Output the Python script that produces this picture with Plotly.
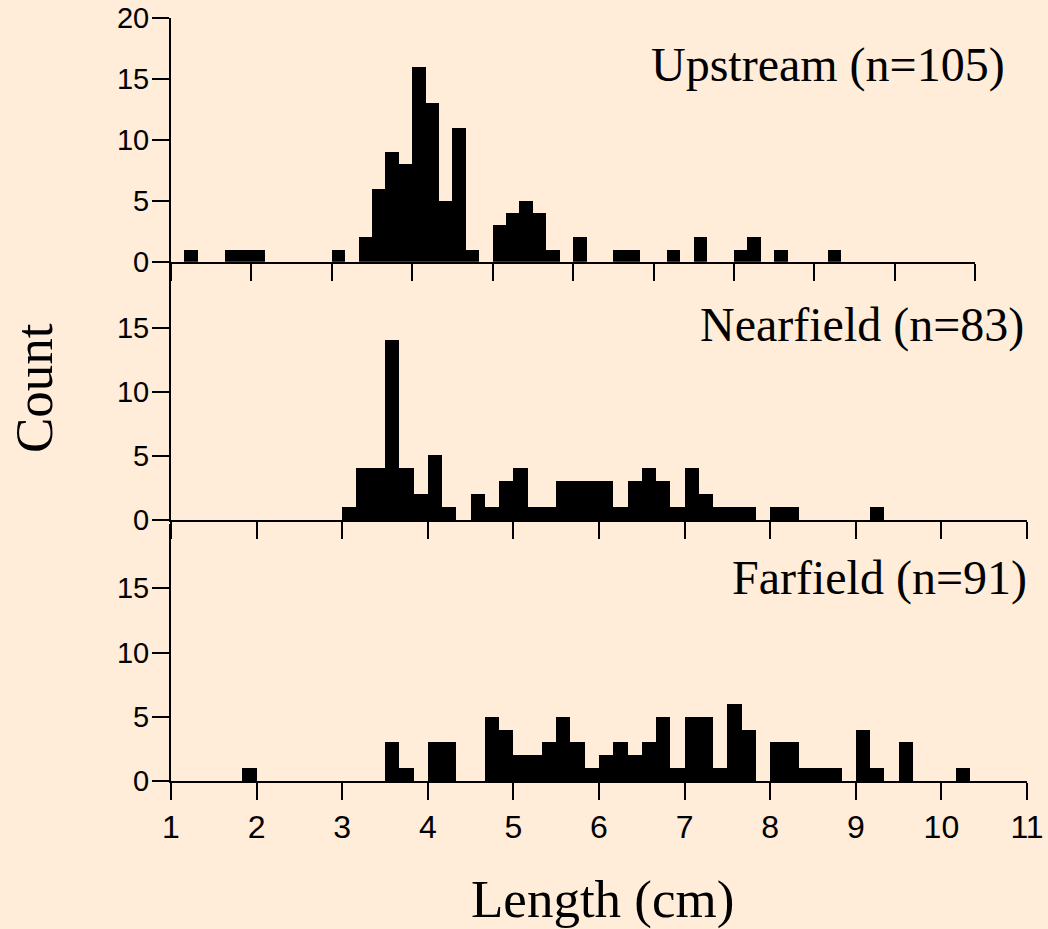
import numpy as np
import plotly.graph_objects as go

# Histogram bins: 60 equal-width bins spanning 1-11 cm
bin_lo, bin_hi, n_bins = 1.0, 11.0, 60
edges = np.linspace(bin_lo, bin_hi, n_bins + 1)
centers = (edges[:-1] + edges[1:]) / 2
bin_width = (bin_hi - bin_lo) / n_bins

# Counts per bin for each sampling site
upstream_counts = [
    0, 1, 0, 0, 1, 1, 1, 0, 0, 0,
    0, 0, 1, 0, 2, 6, 9, 8, 16, 13,
    5, 11, 1, 0, 3, 4, 5, 4, 1, 0,
    2, 0, 0, 1, 1, 0, 0, 1, 0, 2,
    0, 0, 1, 2, 0, 1, 0, 0, 0, 1,
    0, 0, 0, 0, 0, 0, 0, 0, 0, 0,
]
nearfield_counts = [
    0, 0, 0, 0, 0, 0, 0, 0, 0, 0,
    0, 0, 1, 4, 4, 14, 4, 2, 5, 1,
    0, 2, 1, 3, 4, 1, 1, 3, 3, 3,
    3, 1, 3, 4, 3, 1, 4, 2, 1, 1,
    1, 0, 1, 1, 0, 0, 0, 0, 0, 1,
    0, 0, 0, 0, 0, 0, 0, 0, 0, 0,
]
farfield_counts = [
    0, 0, 0, 0, 0, 1, 0, 0, 0, 0,
    0, 0, 0, 0, 0, 3, 1, 0, 3, 3,
    0, 0, 5, 4, 2, 2, 3, 5, 3, 1,
    2, 3, 2, 3, 5, 1, 5, 5, 1, 6,
    4, 0, 3, 3, 1, 1, 1, 0, 4, 1,
    0, 3, 0, 0, 0, 1, 0, 0, 0, 0,
]

site_labels = ["Upstream (n=105)", "Nearfield (n=83)", "Farfield (n=91)"]
x_ticks = list(range(1, 12))
y_ticks_top = [0, 5, 10, 15, 20]
y_ticks_lower = [0, 5, 10, 15]

BG = "#FFECD9"
TICK_FONT = "Arial, Liberation Sans, sans-serif"
SERIF = "Times New Roman, Liberation Serif, serif"

fig = go.Figure()
for idx, counts in enumerate([upstream_counts, nearfield_counts, farfield_counts]):
    suffix = "" if idx == 0 else str(idx + 1)
    fig.add_trace(go.Bar(
        x=centers, y=counts, width=bin_width,
        marker=dict(color="black", line=dict(width=0)),
        xaxis="x" + suffix, yaxis="y" + suffix,
        showlegend=False, hoverinfo="x+y",
    ))

def x_axis(domain, anchor, labels):
    return dict(
        domain=domain, anchor=anchor, range=[bin_lo, bin_hi],
        tickmode="array", tickvals=x_ticks, automargin=False,
        showticklabels=labels, ticks="outside", ticklen=17, tickwidth=2,
        tickcolor="black", showline=True, linewidth=2, linecolor="black",
        showgrid=False, zeroline=False,
        tickfont=dict(family=TICK_FONT, size=32, color="black"),
    )

def y_axis(domain, anchor, ticks):
    return dict(
        domain=domain, anchor=anchor, range=[0, 20], automargin=False,
        tickmode="array", tickvals=ticks,
        ticks="outside", ticklen=17, tickwidth=2, tickcolor="black",
        showline=True, linewidth=2, linecolor="black",
        showgrid=False, zeroline=False, ticklabelstandoff=-3,
        tickfont=dict(family=TICK_FONT, size=29, color="black"),
    )

fig.update_layout(
    width=1048, height=929,
    margin=dict(l=171, r=21, t=18, b=148, pad=0, autoexpand=False),
    paper_bgcolor=BG, plot_bgcolor=BG,
    bargap=0,
    xaxis=x_axis([0, 0.9395], "y", False),
    yaxis=y_axis([0.6806, 1.0], "x", y_ticks_top),
    xaxis2=x_axis([0, 1], "y2", False),
    yaxis2=y_axis([0.3420, 0.6783], "x2", y_ticks_lower),
    xaxis3=x_axis([0, 1], "y3", True),
    yaxis3=y_axis([0, 0.3368], "x3", y_ticks_lower),
)

label_pos = [(0.9768, 0.9385), (0.9985, 0.5976), (1.0023, 0.2654)]
for text, (ax, ay) in zip(site_labels, label_pos):
    fig.add_annotation(
        text=text, xref="paper", yref="paper", x=ax, y=ay,
        xanchor="right", yanchor="middle", showarrow=False,
        font=dict(family=SERIF, size=48, color="black"),
    )

fig.add_annotation(
    text="Count", xref="paper", yref="paper",
    x=(34 - 171) / 856, y=(781 - 388) / 763,
    xanchor="center", yanchor="middle", textangle=-90, showarrow=False,
    font=dict(family=SERIF, size=53, color="black"),
)
fig.add_annotation(
    text="Length (cm)", xref="paper", yref="paper",
    x=(602 - 171) / 856, y=(781 - 899) / 763,
    xanchor="center", yanchor="middle", showarrow=False,
    font=dict(family=SERIF, size=53, color="black"),
)

fig.write_html("out.html")
